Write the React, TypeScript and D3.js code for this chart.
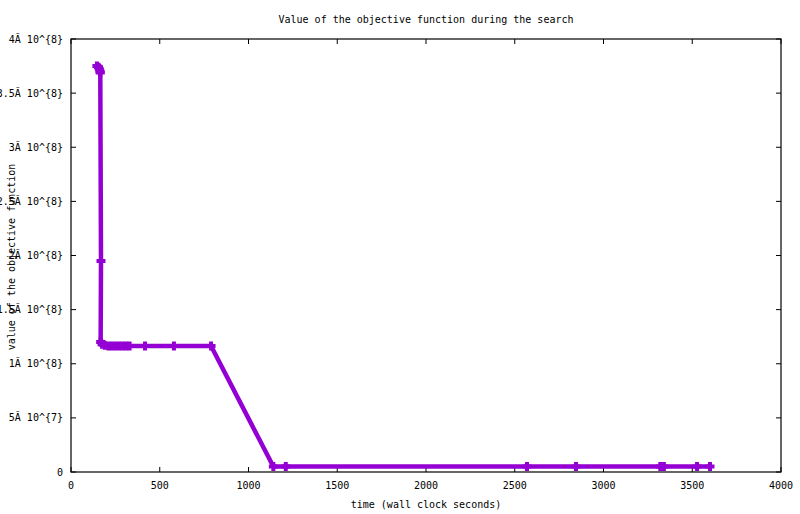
import React from "react";
import * as d3 from "d3";

const timeSeconds = [146, 155, 160, 163, 165, 169, 167, 175, 190, 210, 230, 250, 270, 290, 310, 330, 417, 580, 789, 1140, 1210, 2569, 2845, 3320, 3340, 3527, 3600];
const objectiveValues = [3.75e8, 3.74e8, 3.72e8, 3.7e8, 3.69e8, 1.95e8, 1.2e8, 1.18e8, 1.17e8, 1.165e8, 1.165e8, 1.165e8, 1.165e8, 1.165e8, 1.165e8, 1.165e8, 1.165e8, 1.165e8, 1.165e8, 5e6, 5e6, 5e6, 5e6, 5e6, 5e6, 5e6, 5e6];
const xTicks = [0, 500, 1000, 1500, 2000, 2500, 3000, 3500, 4000];
const yTicks = [0, 5e7, 1e8, 1.5e8, 2e8, 2.5e8, 3e8, 3.5e8, 4e8];
const yTickLabels = ["0", "5Ă 10^{7}", "1Ă 10^{8}", "1.5Ă 10^{8}", "2Ă 10^{8}", "2.5Ă 10^{8}", "3Ă 10^{8}", "3.5Ă 10^{8}", "4Ă 10^{8}"];
const title = "Value of the objective function during the search";
const xLabel = "time (wall clock seconds)";
const yLabel = "value of the objective function";

const W = 800, H = 514;
const L = 71, R = 781, T = 39, B = 472;
const COLOR = "#9400D3";
const FONT = "'DejaVu Sans Mono', monospace";

export default function App() {
  const x = d3.scaleLinear().domain([0, 4000]).range([L, R]);
  const y = d3.scaleLinear().domain([0, 4e8]).range([B, T]);
  const pts = timeSeconds.map((t, i) => [t, objectiveValues[i]] as [number, number]);
  const line = d3.line<[number, number]>().x(d => x(d[0])).y(d => y(d[1]))(pts) || "";
  const tick = 5;
  const m = 4.5;
  return (
    <div style={{ position: "fixed", left: 0, top: 0, width: W, height: H, background: "#fff" }}>
      <svg width={W} height={H} style={{ display: "block" }} fontFamily={FONT} fontSize={10}>
        <rect x={0} y={0} width={W} height={H} fill="#fff" />
        {xTicks.map(v => (
          <g key={"xt" + v}>
            <line x1={x(v)} x2={x(v)} y1={B} y2={B - tick} stroke="#000" />
            <line x1={x(v)} x2={x(v)} y1={T} y2={T + tick} stroke="#000" />
            <text x={x(v)} y={489} textAnchor="middle" fill="#000">{v}</text>
          </g>
        ))}
        {yTicks.map((v, i) => (
          <g key={"yt" + v}>
            <line x1={L} x2={L + tick} y1={y(v)} y2={y(v)} stroke="#000" />
            <line x1={R} x2={R - tick} y1={y(v)} y2={y(v)} stroke="#000" />
            <text x={63} y={y(v) + 3.5} textAnchor="end" fill="#000">{yTickLabels[i]}</text>
          </g>
        ))}
        <rect x={L} y={T} width={R - L} height={B - T} fill="none" stroke="#000" strokeWidth={1.2} />
        <path d={line} fill="none" stroke={COLOR} strokeWidth={4.5} strokeLinejoin="miter" />
        {pts.map((p, i) => (
          <path
            key={"p" + i}
            d={`M${x(p[0]) - m},${y(p[1])}H${x(p[0]) + m}M${x(p[0])},${y(p[1]) - m}V${y(p[1]) + m}`}
            stroke={COLOR}
            strokeWidth={4}
            fill="none"
          />
        ))}
        <text x={(L + R) / 2 + 0} y={23} textAnchor="middle" fill="#000">{title}</text>
        <text x={(L + R) / 2} y={508} textAnchor="middle" fill="#000">{xLabel}</text>
        <text transform={`translate(15,${257}) rotate(-90)`} textAnchor="middle" fill="#000">{yLabel}</text>
      </svg>
    </div>
  );
}
